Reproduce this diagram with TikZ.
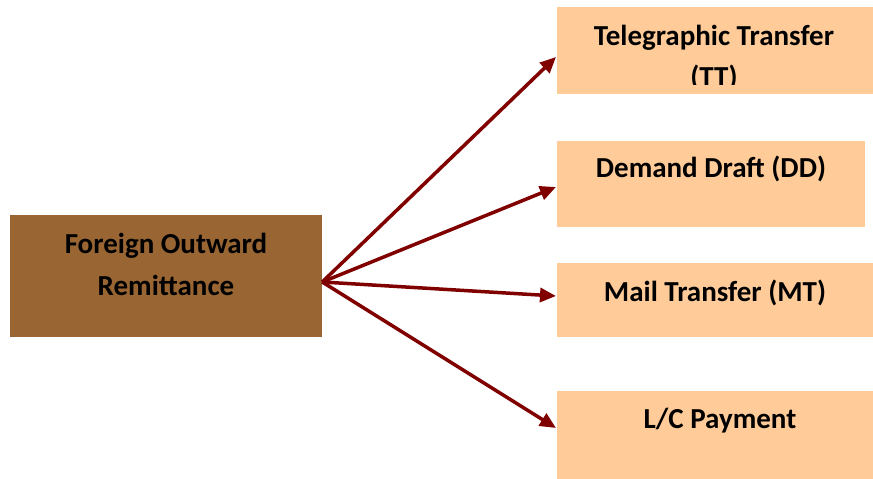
\documentclass[tikz,border=0pt]{standalone}
\usepackage{fontspec}
\setmainfont{Carlito}
\usetikzlibrary{arrows.meta}
\definecolor{rootbrown}{HTML}{996633}
\definecolor{leafpeach}{HTML}{FFCC99}
\definecolor{linkred}{HTML}{800000}
\tikzset{
  rootbox/.style={fill=rootbrown, draw=none, minimum width=312pt, minimum height=122pt, inner sep=0pt},
  leafbox/.style={fill=leafpeach, draw=none, minimum height=#1, inner sep=0pt},
  label/.style={anchor=base, inner sep=0pt, font=\fontsize{29}{34}\selectfont\bfseries},
  link/.style={linkred, line width=3.5pt, -{Triangle[length=16pt,width=14pt]}}
}
\begin{document}
\begin{tikzpicture}[x=1pt,y=-1pt]
\useasboundingbox (0,0) rectangle (873,479);
% boxes
\node[rootbox] (root) at (166,276) {};
\node[leafbox=87pt, minimum width=316pt] (tt) at (715,50.5) {};
\node[leafbox=86pt, minimum width=308pt] (dd) at (711,184) {};
\node[leafbox=74pt, minimum width=316pt] (mt) at (715,300) {};
\node[leafbox=88pt, minimum width=316pt] (lc) at (715,435) {};
% texts
\node[label] (rootA) at (166,253) {Foreign Outward};
\node[label] (rootB) at (166,295) {Remittance};
\node[label] (ttA) at (714,45) {Telegraphic Transfer};
\begin{scope}
  \clip (557,7) rectangle (873,84.5);
  \node[label] (ttB) at (714,86) {(TT)};
\end{scope}
\node[label] (ddA) at (711,177) {Demand Draft (DD)};
\node[label] (mtA) at (715,301) {Mail Transfer (MT)};
\node[label] (lcA) at (720,428) {L/C Payment};
% connectors
\coordinate (src) at (root.east |- 0,282);
\coordinate (t1) at (556,57);
\coordinate (t2) at (556,187);
\coordinate (t3) at (556,296);
\coordinate (t4) at (556,428);
\foreach \t in {t1,t2,t3,t4}
  \draw[link] (src) -- (\t);
\end{tikzpicture}
\end{document}
